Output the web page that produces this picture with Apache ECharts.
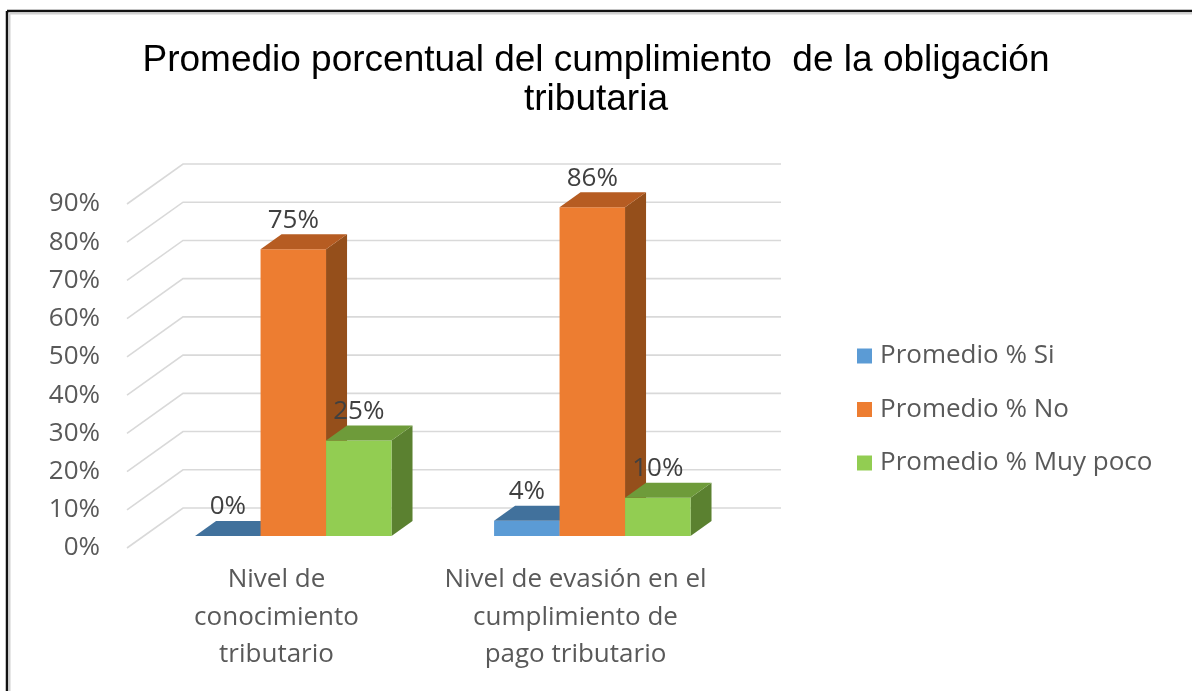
<!DOCTYPE html>
<html>
<head>
<meta charset="utf-8">
<title>Promedio porcentual</title>
<script src="https://cdn.jsdelivr.net/npm/echarts@6/dist/echarts.min.js"></script>
<style>
  html, body { margin: 0; padding: 0; background: #fff; }
  #chart { width: 1192px; height: 691px; }
</style>
</head>
<body>
<div id="chart"></div>
<script>
// datos
const categories = ['Nivel de\nconocimiento\ntributario', 'Nivel de evasión en el\ncumplimiento de\npago tributario']
const seriesNames = ['Promedio % Si', 'Promedio % No', 'Promedio % Muy poco']
const valuesSi = [0, 4]
const valuesNo = [75, 86]
const valuesMuyPoco = [25, 10]
const yTicks = [0, 10, 20, 30, 40, 50, 60, 70, 80, 90]

// desplazamiento de profundidad (efecto 3D)
const depthX = 56
const depthY = -40
const barFront = 0.3
const barBack = 0.675
const barRatio = 0.219

const palette = [
  { front: '#5B9BD5', top: '#41719C', side: '#35628C' },
  { front: '#ED7D31', top: '#B65C22', side: '#954F1B' },
  { front: '#92CD52', top: '#6E9B3A', side: '#5B8130' }
]

function barRender (slot) {
  const c = palette[slot]
  return function (params, api) {
    const idx = api.value(0)
    const val = api.value(1)
    const base = api.coord([idx, 0])
    const top = api.coord([idx, val])
    const bw = api.size([1, 0])[0] * barRatio
    const x0 = base[0] - 1.5 * bw + slot * bw
    const x1 = x0 + bw
    const fx = depthX * barFront
    const fy = depthY * barFront
    const bx = depthX * barBack
    const by = depthY * barBack
    const children = []
    if (top[1] < base[1]) {
      children.push({
        type: 'polygon',
        shape: { points: [[x1 + fx, top[1] + fy], [x1 + bx, top[1] + by], [x1 + bx, base[1] + by], [x1 + fx, base[1] + fy]] },
        style: { fill: c.side }
      })
      children.push({
        type: 'rect',
        shape: { x: x0 + fx, y: top[1] + fy, width: bw, height: base[1] - top[1] },
        style: { fill: c.front }
      })
    }
    children.push({
      type: 'polygon',
      shape: { points: [[x0 + fx, top[1] + fy], [x1 + fx, top[1] + fy], [x1 + bx, top[1] + by], [x0 + bx, top[1] + by]] },
      style: { fill: c.top }
    })
    children.push({
      type: 'text',
      z2: 10,
      style: {
        text: val + '%',
        x: (x0 + x1) / 2 + fx,
        y: top[1] + by - 14,
        align: 'center',
        verticalAlign: 'middle',
        fill: '#404040',
        font: '26px "Open Sans"'
      }
    })
    return { type: 'group', children: children }
  }
}

function gridRender (params, api) {
  const y = api.coord([0, api.value(1)])[1]
  const left = params.coordSys.x
  const right = params.coordSys.x + params.coordSys.width
  return {
    type: 'polyline',
    shape: { points: [[left, y], [left + depthX, y + depthY], [right + depthX, y + depthY]] },
    style: { stroke: '#D9D9D9', lineWidth: 1.6, fill: null }
  }
}

function toData (arr) {
  return arr.map((v, i) => [i, v])
}

const chart = echarts.init(document.getElementById('chart'))
const allValues = [valuesSi, valuesNo, valuesMuyPoco]

const option = {
  backgroundColor: '#fff',
  animation: false,
  title: {
    text: 'Promedio porcentual del cumplimiento  de la obligación\ntributaria',
    left: 'center',
    top: 36,
    textStyle: {
      fontFamily: 'Liberation Sans',
      fontSize: 37,
      fontWeight: 'normal',
      color: '#000',
      lineHeight: 39
    }
  },
  legend: {
    orient: 'vertical',
    left: 857,
    top: 343,
    padding: 0,
    icon: 'rect',
    itemWidth: 15,
    itemHeight: 15,
    itemGap: 27.5,
    data: seriesNames,
    textStyle: {
      fontFamily: 'Open Sans',
      fontSize: 26,
      lineHeight: 26,
      color: '#595959',
      padding: [0, 0, 0, 3]
    }
  },
  grid: {
    left: 127,
    right: 467,
    top: 204,
    bottom: 143
  },
  xAxis: {
    type: 'category',
    data: categories,
    axisLine: { show: false },
    axisTick: { show: false },
    splitLine: { show: false },
    axisLabel: {
      interval: 0,
      margin: 13,
      fontFamily: 'Open Sans',
      fontSize: 26,
      lineHeight: 37.5,
      color: '#595959'
    }
  },
  yAxis: {
    type: 'value',
    min: 0,
    max: 90,
    interval: 10,
    axisLine: { show: false },
    axisTick: { show: false },
    splitLine: { show: false },
    axisLabel: {
      margin: 27,
      formatter: '{value}%',
      fontFamily: 'Open Sans',
      fontSize: 26,
      color: '#595959'
    }
  },
  graphic: [
    { type: 'line', shape: { x1: 7, y1: 11, x2: 1192, y2: 11 }, style: { stroke: '#111', lineWidth: 2.5 } },
    { type: 'line', shape: { x1: 7, y1: 11, x2: 7, y2: 691 }, style: { stroke: '#111', lineWidth: 2.5 } },
    { type: 'line', shape: { x1: 9.5, y1: 13.5, x2: 1192, y2: 13.5 }, style: { stroke: '#D0D0D0', lineWidth: 2 } },
    { type: 'line', shape: { x1: 9.5, y1: 13.5, x2: 9.5, y2: 691 }, style: { stroke: '#D0D0D0', lineWidth: 2 } }
  ],
  series: [
    {
      type: 'custom',
      name: 'grid3d',
      silent: true,
      renderItem: gridRender,
      encode: { x: 0, y: 1 },
      data: yTicks.map(t => [0, t]),
      z: 1
    }
  ].concat(seriesNames.map((name, s) => ({
    type: 'custom',
    name: name,
    renderItem: barRender(s),
    encode: { x: 0, y: 1 },
    itemStyle: { color: palette[s].front },
    data: toData(allValues[s]),
    z: 2
  })))
}

chart.setOption(option)
</script>
</body>
</html>
